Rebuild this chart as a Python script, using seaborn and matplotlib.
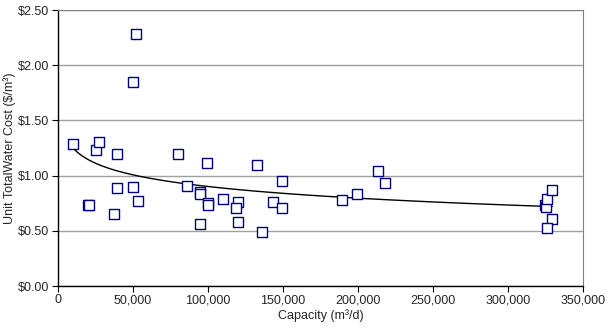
import numpy as np
import pandas as pd
import matplotlib
matplotlib.use("Agg")
import matplotlib.pyplot as plt
import seaborn as sns
from matplotlib.ticker import FuncFormatter, MultipleLocator

# ── Data ─────────────────────────────────────────────────────────────────────
capacity = [10000, 20000, 20800, 25400, 27400, 37800, 39800, 39800,
            50000, 52200, 50000, 53700, 79900, 85900, 95000, 95000,
            95000, 99400, 100000, 100000, 109800, 119800, 119100, 119800,
            132900, 136200, 143500, 149700, 149700, 189000, 199600, 213100,
            218000, 324600, 325000, 325700, 329200, 329200, 325700]
unit_cost = [1.29, 0.73, 0.73, 1.23, 1.30, 0.65, 0.89, 1.20,
             1.85, 2.28, 0.90, 0.77, 1.20, 0.91, 0.85, 0.83,
             0.56, 1.11, 0.75, 0.73, 0.79, 0.76, 0.71, 0.58,
             1.10, 0.49, 0.76, 0.95, 0.71, 0.78, 0.83, 1.04,
             0.93, 0.73, 0.72, 0.79, 0.87, 0.61, 0.53]

df = pd.DataFrame({"capacity": capacity, "cost": unit_cost})

sns.set_style("white")
plt.rcParams["font.family"] = ["Liberation Sans", "DejaVu Sans"]

fig = plt.figure(figsize=(6.08, 3.28), dpi=100)
ax = fig.add_axes([0.0946, 0.128, 0.865, 0.8415])

# trend line (logarithmic fit, like the spreadsheet trendline)
sns.regplot(data=df, x="capacity", y="cost", logx=True, ci=None, scatter=False,
            ax=ax, line_kws={"color": "black", "lw": 1.0})

sns.scatterplot(data=df, x="capacity", y="cost", ax=ax, marker="s", s=45,
                facecolor="white", edgecolor="#000080", linewidth=1.0, zorder=3)

ax.set_xlim(0, 350000)
ax.set_ylim(0, 2.5)
ax.xaxis.set_major_locator(MultipleLocator(50000))
ax.yaxis.set_major_locator(MultipleLocator(0.5))
ax.xaxis.set_major_formatter(FuncFormatter(lambda v, p: f"{int(v):,}"))
ax.yaxis.set_major_formatter(FuncFormatter(lambda v, p: f"${v:.2f}"))

ax.grid(axis="y", color="#a0a0a0", lw=1.0)
ax.grid(axis="x", visible=False)
ax.set_axisbelow(True)

for side in ["left", "bottom"]:
    ax.spines[side].set_color("black")
    ax.spines[side].set_linewidth(1.0)
ax.spines["right"].set_color("#808080")
ax.spines["top"].set_color("#808080")

ax.tick_params(axis="both", direction="out", length=4, width=0.8, color="black",
               labelsize=9, left=True, bottom=True, pad=2)

ax.set_xlabel("Capacity (m³/d)", fontsize=9, labelpad=2)
ax.set_ylabel("Unit TotalWater Cost ($/m³)", fontsize=9, labelpad=1)

fig.savefig("out.png", dpi=100, facecolor="white")
